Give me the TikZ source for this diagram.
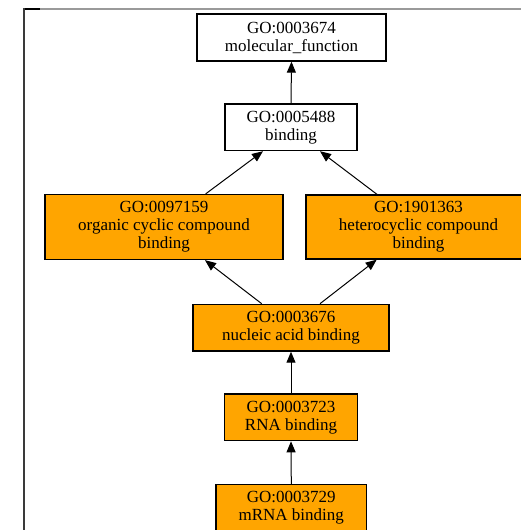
\documentclass[tikz,border=0pt]{standalone}
\usepackage{fontspec}
\setmainfont{Liberation Serif}
\usetikzlibrary{arrows.meta}
\definecolor{goorange}{HTML}{FFA500}
\definecolor{framegray}{HTML}{9A9A9A}
\definecolor{framedark}{HTML}{3A3A3A}
\tikzset{
  term/.style={draw=black, line width=1.3pt, align=center, inner sep=0pt,
    font=\fontsize{17}{18}\selectfont},
  plain/.style={term, fill=white},
  hit/.style={term, fill=goorange},
  isa/.style={draw=black, line width=1pt, -{Triangle[length=11pt,width=9pt]}}
}
\begin{document}
\begin{tikzpicture}[x=1pt,y=-1pt]
  \useasboundingbox (0,0) rectangle (521,530);
  % page frame
  \draw[framegray, line width=1.7pt] (40,9.2) -- (521,9.2);
  \draw[black, line width=1.7pt] (23,9.2) -- (40,9.2);
  \draw[framedark, line width=2pt] (23.7,8.3) -- (23.7,530);

  % GO terms
  \node[plain, minimum width=189pt, minimum height=47pt] (mf) at (291.5,37.5)
    {GO:0003674\\molecular\_function};
  \node[plain, minimum width=132pt, minimum height=46.5pt] (bind) at (291,127.3)
    {GO:0005488\\binding};
  \node[hit, minimum width=238pt, minimum height=65pt] (occ) at (164,227)
    {GO:0097159\\organic cyclic compound\\binding};
  \node[hit, minimum width=225pt, minimum height=64pt] (hcc) at (418.5,227)
    {GO:1901363\\heterocyclic compound\\binding};
  \node[hit, minimum width=196pt, minimum height=46.7pt] (nab) at (291,327.7)
    {GO:0003676\\nucleic acid binding};
  \node[hit, minimum width=133.4pt, minimum height=46.7pt] (rna) at (291,417.3)
    {GO:0003723\\RNA binding};
  \node[hit, minimum width=150.7pt, minimum height=46.7pt] (mrna) at (291.3,508)
    {GO:0003729\\mRNA binding};

  % is_a relations
  \draw[isa] (bind.north) -- (mf.south);
  \draw[isa] ([xshift=41.7pt]occ.north) -- ([xshift=-28pt]bind.south);
  \draw[isa] ([xshift=-41.5pt]hcc.north) -- ([xshift=29pt]bind.south);
  \draw[isa] ([xshift=-29.3pt]nab.north) -- ([xshift=41pt]occ.south);
  \draw[isa] ([xshift=29pt]nab.north) -- ([xshift=-41.8pt]hcc.south);
  \draw[isa] (rna.north) -- (nab.south);
  \draw[isa] (mrna.north) -- (rna.south);
\end{tikzpicture}
\end{document}
